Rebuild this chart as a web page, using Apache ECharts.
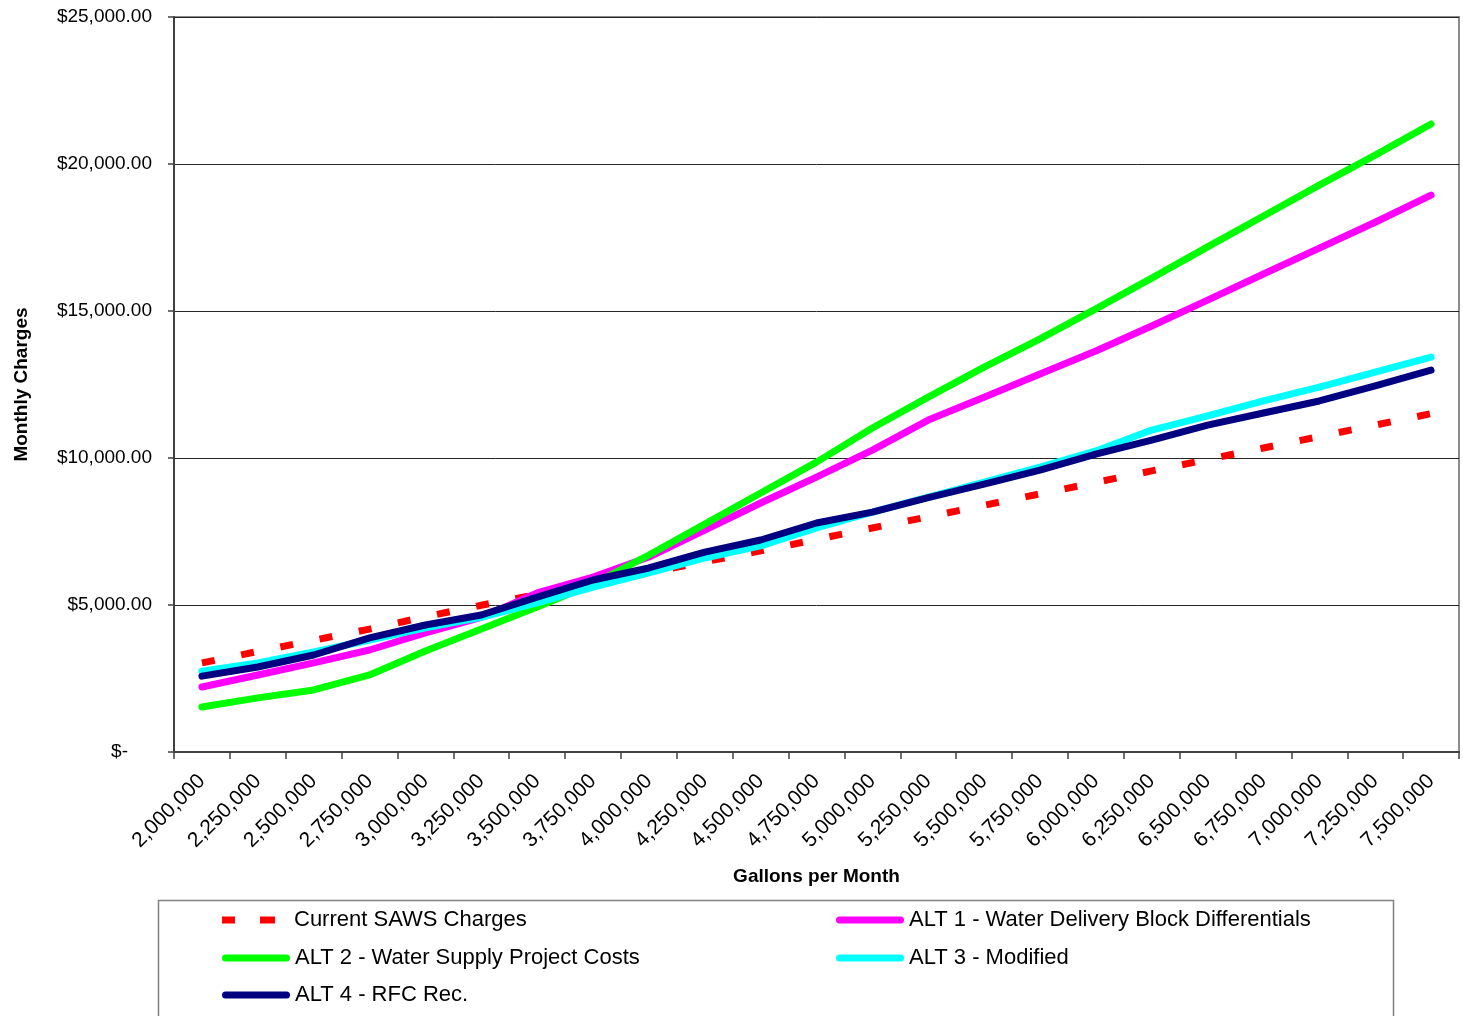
<!DOCTYPE html>
<html>
<head>
<meta charset="utf-8">
<title>Monthly Charges</title>
<script src="https://cdn.jsdelivr.net/npm/echarts@6/dist/echarts.min.js"></script>
<style>
  html, body { margin: 0; padding: 0; background: #fff; }
  #chart { width: 1463px; height: 1016px; }
</style>
</head>
<body>
<div id="chart"></div>
<script>
// gallons per month (category axis)
const categories = ['2,000,000', '2,250,000', '2,500,000', '2,750,000', '3,000,000', '3,250,000',
  '3,500,000', '3,750,000', '4,000,000', '4,250,000', '4,500,000', '4,750,000', '5,000,000',
  '5,250,000', '5,500,000', '5,750,000', '6,000,000', '6,250,000', '6,500,000', '6,750,000',
  '7,000,000', '7,250,000', '7,500,000'];

// monthly charges
const currentSaws = [3030, 3420, 3800, 4180, 4600, 4990, 5360, 5730, 6100, 6470, 6840, 7230,
  7620, 8000, 8390, 8780, 9170, 9560, 9950, 10340, 10730, 11120, 11510];
const alt1 = [2210, 2620, 3030, 3470, 4050, 4580, 5410, 5950, 6630, 7550, 8470, 9350,
  10270, 11290, 12070, 12860, 13640, 14490, 15370, 16260, 17140, 18020, 18940];
const alt2 = [1530, 1840, 2110, 2620, 3435, 4180, 4930, 5710, 6700, 7750, 8810, 9860,
  11020, 12070, 13090, 14050, 15070, 16120, 17180, 18230, 19280, 20300, 21360];
const alt3 = [2750, 3030, 3400, 3810, 4220, 4580, 5070, 5610, 6090, 6600, 7010, 7620,
  8160, 8670, 9180, 9690, 10240, 10950, 11430, 11940, 12410, 12920, 13430];
const alt4 = [2580, 2890, 3300, 3880, 4320, 4660, 5270, 5850, 6260, 6800, 7210, 7790,
  8160, 8650, 9110, 9590, 10130, 10610, 11120, 11530, 11940, 12450, 12990];

const yTicks = [0, 5000, 10000, 15000, 20000, 25000];

const FONT = 'Liberation Sans';

// legend icons, 68 x 7
const capsule = 'path://M3.5,0h61a3.5,3.5 0 0 1 0,7h-61a3.5,3.5 0 0 1 0,-7z';
const dashes = 'path://M2,0h13v7h-13z M40,0h15v7h-15z M67.9,3.4h0.1v0.1h-0.1z';

function money(v) {
  if (v === 0) return '{z|$-}';
  const s = String(v).replace(/\B(?=(\d{3})+(?!\d))/g, ',');
  return '$' + s + '.00';
}

function line(name, data, color, dashed) {
  return {
    name: name,
    type: 'line',
    data: data,
    symbol: 'none',
    smooth: false,
    color: color,
    lineStyle: {
      color: color,
      width: 7,
      type: dashed ? [13, 27] : 'solid',
      cap: dashed ? 'butt' : 'round',
      join: 'round'
    },
    itemStyle: { color: color },
    z: 2
  };
}

// one legend per entry so the two columns line up like the original
function legendItem(name, icon, left, rowY) {
  return {
    left: left,
    top: rowY - 11,
    padding: 0,
    itemWidth: 68,
    itemHeight: 7,
    selectedMode: false,
    textStyle: { fontFamily: FONT, fontSize: 22, color: '#000', lineHeight: 22 },
    data: [{ name: name, icon: icon }]
  };
}

const chart = echarts.init(document.getElementById('chart'));

const option = {
  backgroundColor: '#fff',
  animation: false,
  grid: {
    left: 174,
    right: 4,
    top: 17,
    bottom: 264,
    show: true,
    borderColor: '#8c8c8c',
    borderWidth: 2
  },
  legend: [
    legendItem('Current SAWS Charges', dashes, 222, 920),
    legendItem('ALT 1 - Water Delivery Block Differentials', capsule, 836, 920),
    legendItem('ALT 2 - Water Supply Project Costs', capsule, 222, 958),
    legendItem('ALT 3 - Modified', capsule, 836, 958),
    legendItem('ALT 4 - RFC Rec.', capsule, 222, 995)
  ],
  graphic: [
    {
      type: 'rect',
      shape: { x: 158.5, y: 900.5, width: 1235, height: 140 },
      style: { fill: 'none', stroke: '#808080', lineWidth: 1.5 },
      silent: true
    }
  ],
  xAxis: {
    type: 'category',
    data: categories,
    boundaryGap: true,
    name: 'Gallons per Month',
    nameLocation: 'middle',
    nameGap: 115,
    nameTextStyle: { fontFamily: FONT, fontSize: 19, fontWeight: 'bold', color: '#000' },
    axisLine: { lineStyle: { color: '#404040', width: 2 } },
    axisTick: { show: true, length: 7, lineStyle: { color: '#404040', width: 1.5 } },
    axisLabel: {
      interval: 0,
      rotate: 45,
      margin: 26,
      fontFamily: FONT,
      fontSize: 21,
      color: '#000'
    },
    splitLine: { show: false }
  },
  yAxis: {
    type: 'value',
    min: yTicks[0],
    max: yTicks[yTicks.length - 1],
    interval: 5000,
    name: 'Monthly Charges',
    nameLocation: 'middle',
    nameGap: 143,
    nameTextStyle: { fontFamily: FONT, fontSize: 19, fontWeight: 'bold', color: '#000' },
    axisLine: { show: true, lineStyle: { color: '#404040', width: 2 } },
    axisTick: { show: true, length: 6, lineStyle: { color: '#404040', width: 1.5 } },
    axisLabel: {
      margin: 22,
      fontFamily: FONT,
      fontSize: 19,
      color: '#000',
      formatter: money,
      rich: {
        z: { fontFamily: FONT, fontSize: 19, color: '#000', padding: [0, 24, 0, 0] }
      }
    },
    splitLine: { show: true, lineStyle: { color: '#262626', width: 1 } }
  },
  series: [
    line('Current SAWS Charges', currentSaws, '#ff0000', true),
    line('ALT 1 - Water Delivery Block Differentials', alt1, '#ff00ff', false),
    line('ALT 2 - Water Supply Project Costs', alt2, '#00ff00', false),
    line('ALT 3 - Modified', alt3, '#00ffff', false),
    line('ALT 4 - RFC Rec.', alt4, '#000080', false)
  ]
};

chart.setOption(option);
</script>
</body>
</html>
